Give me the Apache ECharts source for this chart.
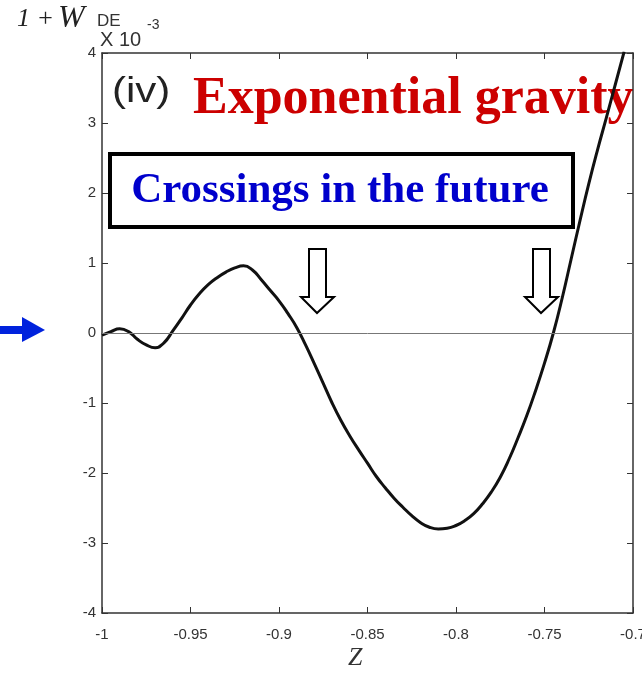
<!DOCTYPE html>
<html>
<head>
<meta charset="utf-8">
<script src="https://cdn.jsdelivr.net/npm/echarts@6/dist/echarts.min.js"></script>
<style>
  html, body { margin: 0; padding: 0; background: #fff; }
  #chart { width: 642px; height: 690px; }
</style>
</head>
<body>
<div id="chart"></div>
<script>
// Redshift-like variable z and the deviation 1 + w_DE (in units of 1e-3)
const zValues = [
  -1.000, -0.995, -0.990, -0.985, -0.980, -0.975, -0.970, -0.965, -0.960, -0.955,
  -0.950, -0.945, -0.940, -0.935, -0.930, -0.925, -0.920, -0.915, -0.910, -0.905,
  -0.900, -0.895, -0.890, -0.885, -0.880, -0.875, -0.870, -0.865, -0.860, -0.855,
  -0.850, -0.845, -0.840, -0.835, -0.830, -0.825, -0.820, -0.815, -0.810, -0.805,
  -0.800, -0.795, -0.790, -0.785, -0.780, -0.775, -0.770, -0.765, -0.760, -0.755,
  -0.750, -0.745, -0.740, -0.735, -0.730, -0.725, -0.720, -0.715, -0.710, -0.705
];
const wValues = [
  -0.03, 0.02, 0.06, 0.02, -0.09, -0.17, -0.21, -0.14, 0.03, 0.21,
  0.40, 0.56, 0.69, 0.79, 0.87, 0.93, 0.96, 0.90, 0.76, 0.61,
  0.46, 0.28, 0.08, -0.17, -0.44, -0.72, -1.00, -1.25, -1.47, -1.67,
  -1.86, -2.05, -2.21, -2.36, -2.49, -2.61, -2.71, -2.775, -2.80, -2.79,
  -2.75, -2.68, -2.58, -2.44, -2.27, -2.06, -1.80, -1.50, -1.18, -0.82,
  -0.43, 0.00, 0.50, 1.05, 1.60, 2.13, 2.62, 3.08, 3.55, 4.02
];
const xTicks = [-1, -0.95, -0.9, -0.85, -0.8, -0.75, -0.7];
const yTicks = [-4, -3, -2, -1, 0, 1, 2, 3, 4];

const chart = echarts.init(document.getElementById('chart'), null, { renderer: 'canvas' });

const axisColor = '#333';
const labelFont = { color: '#333', fontFamily: 'Liberation Sans, Arial, sans-serif', fontSize: 15 };
const fmt = v => String(+Number(v).toFixed(2));

const boxAxisCommon = {
  type: 'value',
  axisLine: { show: true, onZero: false, lineStyle: { color: axisColor, width: 1.5 } },
  axisTick: { show: true, inside: true, length: 6, lineStyle: { color: axisColor, width: 1 } },
  splitLine: { show: false }
};

chart.setOption({
  animation: false,
  backgroundColor: '#fff',
  grid: { left: 102, right: 9, top: 53, bottom: 77, outerBoundsMode: 'none', containLabel: false },
  xAxis: [
    Object.assign({}, boxAxisCommon, {
      position: 'bottom',
      min: xTicks[0], max: xTicks[xTicks.length - 1], interval: 0.05,
      axisLabel: Object.assign({ margin: 14, formatter: fmt }, labelFont)
    }),
    Object.assign({}, boxAxisCommon, {
      position: 'top',
      min: xTicks[0], max: xTicks[xTicks.length - 1], interval: 0.05,
      axisLabel: { show: false }
    })
  ],
  yAxis: [
    Object.assign({}, boxAxisCommon, {
      position: 'left',
      min: yTicks[0], max: yTicks[yTicks.length - 1], interval: 1,
      axisLabel: Object.assign({ margin: 6, formatter: fmt }, labelFont)
    }),
    Object.assign({}, boxAxisCommon, {
      position: 'right',
      min: yTicks[0], max: yTicks[yTicks.length - 1], interval: 1,
      axisLabel: { show: false }
    })
  ],
  series: [{
    type: 'line',
    xAxisIndex: 0,
    yAxisIndex: 0,
    data: zValues.map((z, i) => [z, wValues[i]]),
    smooth: 0.5,
    showSymbol: false,
    clip: true,
    lineStyle: { color: '#111', width: 3 },
    markLine: {
      silent: true,
      symbol: 'none',
      label: { show: false },
      lineStyle: { color: '#777', width: 1, type: 'solid' },
      data: [{ yAxis: 0 }]
    }
  }],
  graphic: [
    // y-axis title: 1 + w_DE
    { type: 'text', left: 17, top: 6, style: { text: '1 +', font: 'italic 26px "Liberation Serif", serif', fill: '#222' } },
    { type: 'text', left: 58, top: 3, style: { text: 'W', font: 'italic 32px "Liberation Serif", serif', fill: '#222' } },
    { type: 'text', left: 97, top: 13, style: { text: 'DE', font: '17px "Liberation Sans", sans-serif', fill: '#333' } },
    // scale factor
    { type: 'text', left: 100, top: 30, style: { text: 'X 10', font: '20px "Liberation Sans", sans-serif', fill: '#333' } },
    { type: 'text', left: 147, top: 18, style: { text: '-3', font: '14px "Liberation Sans", sans-serif', fill: '#333' } },
    // x-axis title
    { type: 'text', left: 348, top: 645, style: { text: 'Z', font: 'italic 26px "Liberation Serif", serif', fill: '#333' } },
    // panel label and model name
    { type: 'text', x: 112, y: 75, scaleX: 1.2, style: { text: '(iv)', font: '35px "Liberation Sans", sans-serif', fill: '#222' } },
    { type: 'text', left: 193, top: 74, style: { text: 'Exponential gravity', font: 'bold 52px "Liberation Serif", serif', fill: '#cc0000' } },
    // boxed note
    { type: 'rect', shape: { x: 110, y: 154, width: 463, height: 73 }, style: { fill: '#fff', stroke: '#000', lineWidth: 4 } },
    { type: 'text', x: 340, y: 191, style: { text: 'Crossings in the future', font: 'bold 43px "Liberation Serif", serif', fill: '#0000cc', textAlign: 'center', textVerticalAlign: 'middle' } },
    // hollow arrows pointing to the crossings
    { type: 'polygon', shape: { points: [[309,249],[326,249],[326,297],[334,297],[317,313],[301,297],[309,297]] }, style: { fill: '#fff', stroke: '#000', lineWidth: 2 } },
    { type: 'polygon', shape: { points: [[533,249],[550,249],[550,297],[558,297],[541,313],[525,297],[533,297]] }, style: { fill: '#fff', stroke: '#000', lineWidth: 2 } },
    // blue pointer at zero level
    { type: 'rect', shape: { x: 0, y: 326, width: 24, height: 8 }, style: { fill: '#0022dd' } },
    { type: 'polygon', shape: { points: [[22,317],[45,330],[22,342]] }, style: { fill: '#0022dd' } }
  ]
});
</script>
</body>
</html>
